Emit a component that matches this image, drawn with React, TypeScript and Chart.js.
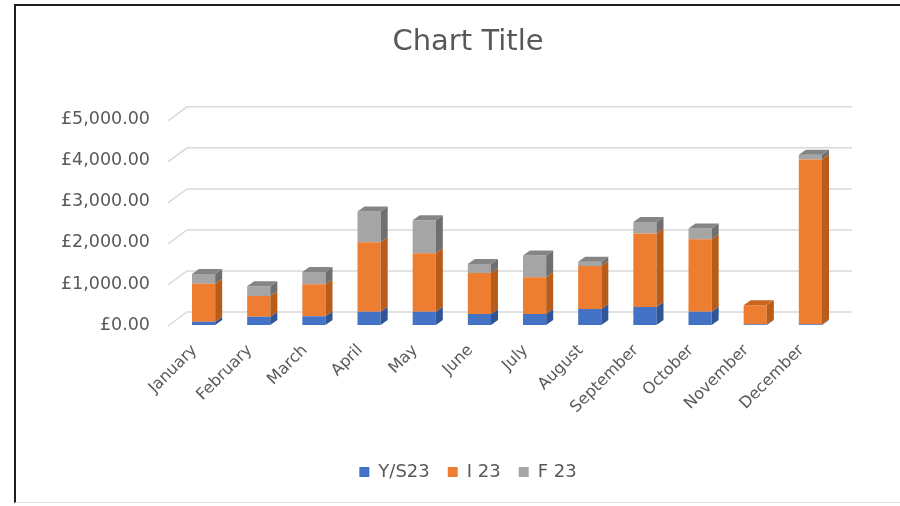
import React, { useEffect, useRef } from "react";
import { Chart, registerables } from "chart.js";

Chart.register(...registerables);

// Monthly totals per cost stream
const months = [
  "January", "February", "March", "April", "May", "June",
  "July", "August", "September", "October", "November", "December",
];
const ys23 = [80, 200, 215, 325, 325, 265, 265, 390, 440, 320, 20, 20];
const i23 = [925, 505, 775, 1690, 1425, 1005, 900, 1045, 1790, 1770, 460, 4010];
const f23 = [240, 240, 300, 750, 805, 215, 530, 105, 280, 260, 0, 120];
const yTickValues = [0, 1000, 2000, 3000, 4000, 5000];

const FONT = "'DejaVu Sans', sans-serif";
const TEXT = "#595959";

// 3D extrusion of each column: depth offset to the right and upwards
const DX = 7;
const DY = 5;

type Face = { side: string; top: string };
const faces: Record<string, Face> = {
  "Y/S23": { side: "#2f5597", top: "#3a63ad" },
  "I 23": { side: "#b95b19", top: "#c8661f" },
  "F 23": { side: "#6f6f6f", top: "#858585" },
};

const poundFmt = (v: number) =>
  "£" + v.toLocaleString("en-GB", { minimumFractionDigits: 2, maximumFractionDigits: 2 });

// Floor/back-wall gridlines drawn in perspective
const wallGrid = {
  id: "wallGrid",
  beforeDatasetsDraw(chart: any) {
    const { ctx, chartArea } = chart;
    const s = chart.scales.y;
    ctx.save();
    ctx.strokeStyle = "#d9d9d9";
    ctx.lineWidth = 1.5;
    yTickValues.forEach((v) => {
      const yf = s.getPixelForValue(v);
      ctx.beginPath();
      ctx.moveTo(chartArea.left - 8, yf + 1);
      ctx.lineTo(chartArea.left + 11, yf - 13);
      ctx.lineTo(chartArea.right + 14, yf - 13);
      ctx.stroke();
    });
    ctx.restore();
  },
};

// Side and top faces of the stacked columns
const columns3d = {
  id: "columns3d",
  afterDatasetsDraw(chart: any) {
    const { ctx } = chart;
    const datasets = chart.data.datasets;
    ctx.save();
    datasets.forEach((ds: any, di: number) => {
      const meta = chart.getDatasetMeta(di);
      if (!chart.isDatasetVisible(di)) return;
      const face = faces[ds.label];
      meta.data.forEach((el: any, idx: number) => {
        if (!ds.data[idx]) return;
        const { x, y, base, width } = el.getProps(["x", "y", "base", "width"], true);
        const r = x + width / 2;
        ctx.fillStyle = face.side;
        ctx.beginPath();
        ctx.moveTo(r, y);
        ctx.lineTo(r + DX, y - DY);
        ctx.lineTo(r + DX, base - DY);
        ctx.lineTo(r, base);
        ctx.closePath();
        ctx.fill();
      });
    });
    const n = chart.data.labels.length;
    for (let idx = 0; idx < n; idx++) {
      for (let di = datasets.length - 1; di >= 0; di--) {
        if (!chart.isDatasetVisible(di) || !datasets[di].data[idx]) continue;
        const el = chart.getDatasetMeta(di).data[idx];
        const { x, y, width } = el.getProps(["x", "y", "width"], true);
        const l = x - width / 2;
        const r = x + width / 2;
        ctx.fillStyle = faces[datasets[di].label].top;
        ctx.beginPath();
        ctx.moveTo(l, y);
        ctx.lineTo(l + DX, y - DY);
        ctx.lineTo(r + DX, y - DY);
        ctx.lineTo(r, y);
        ctx.closePath();
        ctx.fill();
        break;
      }
    }
    ctx.restore();
  },
};

export default function App() {
  const ref = useRef<HTMLCanvasElement | null>(null);

  useEffect(() => {
    if (!ref.current) return;
    const chart = new Chart(ref.current, {
      type: "bar",
      data: {
        labels: months,
        datasets: [
          { label: "Y/S23", data: ys23, backgroundColor: "#4472c4" },
          { label: "I 23", data: i23, backgroundColor: "#ed7d31" },
          { label: "F 23", data: f23, backgroundColor: "#a5a5a5" },
        ],
      },
      options: {
        responsive: false,
        animation: false,
        devicePixelRatio: 1,
        layout: { padding: { left: 40, right: 4, top: 0, bottom: 15 } },
        datasets: {
          bar: { categoryPercentage: 1, barPercentage: 0.42 },
        },
        plugins: {
          title: {
            display: true,
            text: "Chart Title",
            color: TEXT,
            font: { family: FONT, size: 29, weight: "normal" },
            padding: { top: 25, bottom: 60 },
          },
          legend: {
            position: "bottom",
            labels: {
              color: TEXT,
              font: { family: FONT, size: 18 },
              boxWidth: 10,
              boxHeight: 10,
              padding: 18,
            },
          },
          tooltip: { enabled: false },
        },
        scales: {
          x: {
            stacked: true,
            grid: { display: false },
            border: { display: false },
            ticks: {
              color: TEXT,
              font: { family: FONT, size: 16 },
              minRotation: 45,
              maxRotation: 45,
              padding: 8,
              labelOffset: -9,
            },
            afterFit(s: any) {
              s.height = 120;
            },
          },
          y: {
            stacked: true,
            min: 0,
            max: 5000,
            grid: { display: false, drawTicks: false },
            border: { display: false },
            ticks: {
              stepSize: 1000,
              color: TEXT,
              font: { family: FONT, size: 17.5 },
              padding: 26,
              callback: (v: any) => poundFmt(Number(v)),
            },
            afterFit(s: any) {
              s.width = 136;
            },
          },
          yR: {
            position: "right",
            display: true,
            grid: { display: false },
            border: { display: false },
            ticks: { display: false },
            afterFit(s: any) {
              s.width = 58;
            },
          },
        },
      },
      plugins: [wallGrid, columns3d],
    });
    return () => chart.destroy();
  }, []);

  return (
    <div style={{ position: "absolute", left: 0, top: 0, width: 900, height: 506, background: "#fff" }}>
      <canvas ref={ref} width={900} height={506} style={{ display: "block" }} />
      <div
        style={{
          position: "absolute",
          left: 14,
          top: 4,
          width: 890,
          height: 496,
          borderTop: "2px solid #1e1e1e",
          borderLeft: "2px solid #1e1e1e",
          borderBottom: "1px solid #e3e3e3",
          pointerEvents: "none",
        }}
      />
    </div>
  );
}
